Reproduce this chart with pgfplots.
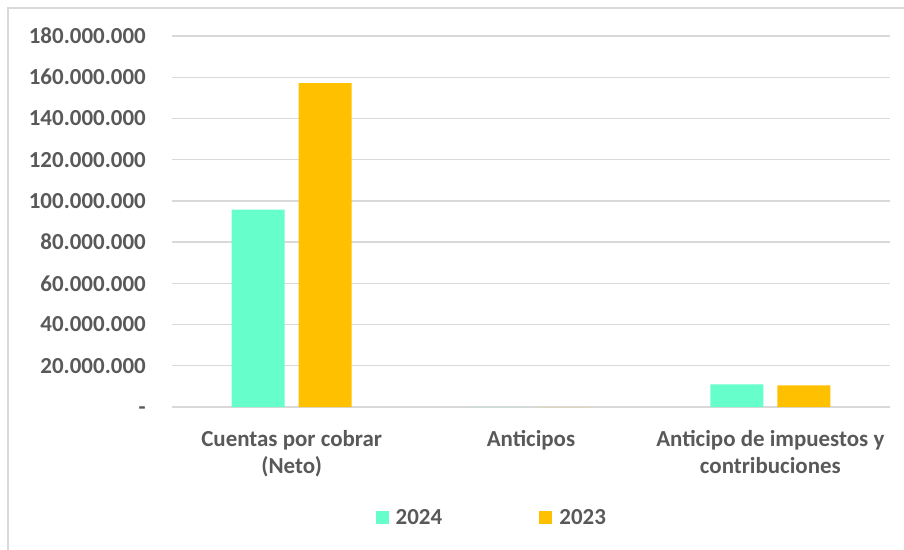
\documentclass[border=0pt]{standalone}
\usepackage{fontspec}
\setmainfont{Carlito}
\usepackage{pgfplots}
\pgfplotsset{compat=1.18}
\definecolor{c24}{HTML}{66FFCC}
\definecolor{c23}{HTML}{FFC000}
\definecolor{txt}{HTML}{595959}
\definecolor{grd}{HTML}{D9D9D9}
\begin{document}
\begin{tikzpicture}[x=0.75pt,y=0.75pt,font=\fontsize{17.2}{20.25}\selectfont\bfseries]
\useasboundingbox (-172,-143) rectangle (732,407);
\draw[grd, line width=1.5pt] (-164,-143) -- (-164,399) -- (732,399);
\begin{axis}[
  at={(0,0)}, anchor=south west,
  scale only axis, width=538.5pt, height=278.25pt,
  xmin=-0.5, xmax=2.5, ymin=0, ymax=180000000,
  scaled y ticks=false,
  ybar=10.5pt, bar width=39.75pt,
  xtick={0,1,2},
  xticklabels={{Cuentas por cobrar\\(Neto)},{Anticipos},{Anticipo de impuestos y\\contribuciones}},
  xticklabel style={align=center, text=txt, anchor=north, inner sep=0pt, yshift=-17.5pt},
  ytick={0,20000000,40000000,60000000,80000000,100000000,120000000,140000000,160000000,180000000},
  yticklabels={{\smash{\raisebox{-5.8pt}{-}}},20.000.000,40.000.000,60.000.000,80.000.000,100.000.000,120.000.000,140.000.000,160.000.000,180.000.000},
  yticklabel style={text=txt, anchor=east, inner sep=0pt, xshift=-19.5pt},
  major tick length=0pt,
  axis line style={draw=none},
  ymajorgrids, grid style={grd, line width=1pt},
  legend columns=2,
  legend style={at={(0.444,-0.299)}, anchor=center, draw=none, fill=none,
    text=txt, inner sep=0pt, nodes={inner sep=0pt},
    /tikz/every odd column/.append style={column sep=5.25pt},
    /tikz/every even column/.append style={column sep=73pt}},
  legend image code/.code={\fill[#1,draw=none] (0pt,-4.9pt) rectangle (9.75pt,4.9pt);},
]
\addplot[fill=c24, draw=none] coordinates {(0,95800000) (1,0) (2,11000000)};
\addlegendentry{2024}
\addplot[fill=c23, draw=none] coordinates {(0,157100000) (1,0) (2,10500000)};
\addlegendentry{2023}
\end{axis}
\end{tikzpicture}
\end{document}
